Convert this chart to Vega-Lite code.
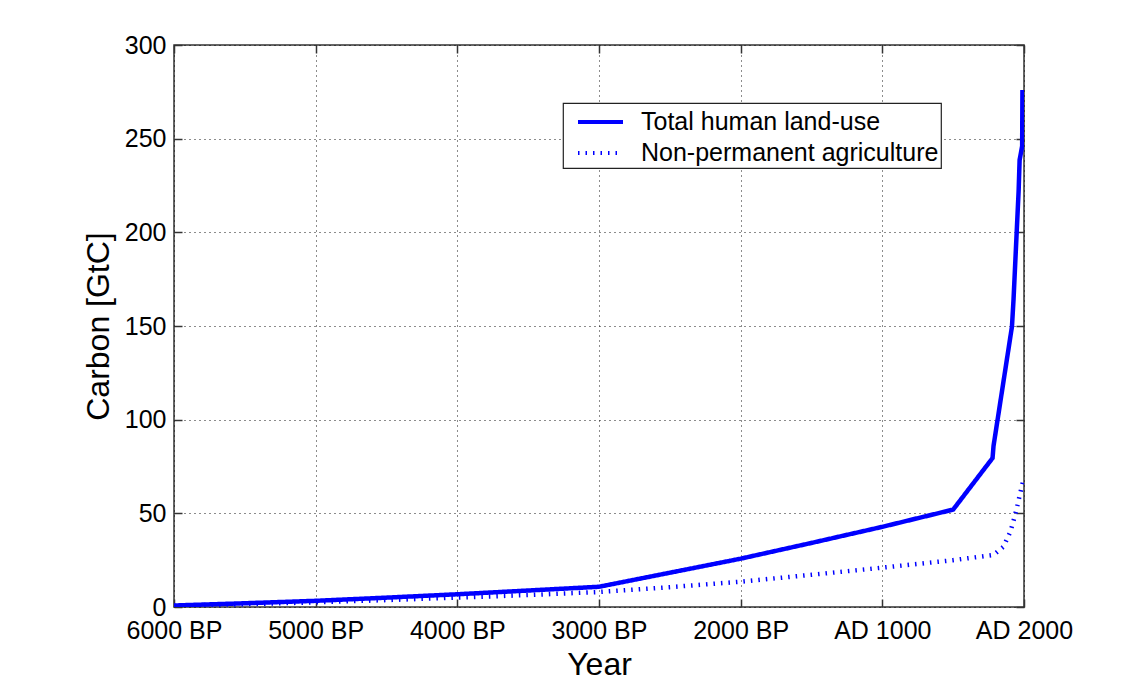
{
  "$schema": "https://vega.github.io/schema/vega-lite/v6.json",
  "width": 850,
  "height": 562,
  "autosize": {"type": "none"},
  "padding": {"left": 174, "top": 45, "right": 109, "bottom": 86},
  "background": "white",
  "config": {
    "font": "Liberation Sans",
    "view": {"stroke": "#333333", "strokeWidth": 1.5},
    "legend": {"strokeWidth": 1.2}
  },
  "data": {
    "values": [
      {"series": "Total human land-use", "year": -4000, "carbon": 0.8},
      {"series": "Total human land-use", "year": -3500, "carbon": 2.0},
      {"series": "Total human land-use", "year": -3000, "carbon": 3.3},
      {"series": "Total human land-use", "year": -2500, "carbon": 5.0},
      {"series": "Total human land-use", "year": -2000, "carbon": 6.8},
      {"series": "Total human land-use", "year": -1500, "carbon": 8.8},
      {"series": "Total human land-use", "year": -1000, "carbon": 10.8},
      {"series": "Total human land-use", "year": -500, "carbon": 18.3},
      {"series": "Total human land-use", "year": 0, "carbon": 25.8},
      {"series": "Total human land-use", "year": 500, "carbon": 34.2},
      {"series": "Total human land-use", "year": 1000, "carbon": 42.8},
      {"series": "Total human land-use", "year": 1500, "carbon": 52.0},
      {"series": "Total human land-use", "year": 1778, "carbon": 79.5},
      {"series": "Total human land-use", "year": 1785, "carbon": 86.0},
      {"series": "Total human land-use", "year": 1915, "carbon": 149.7},
      {"series": "Total human land-use", "year": 1926, "carbon": 164.0},
      {"series": "Total human land-use", "year": 1962, "carbon": 222.0},
      {"series": "Total human land-use", "year": 1969, "carbon": 238.6},
      {"series": "Total human land-use", "year": 1987, "carbon": 246.0},
      {"series": "Total human land-use", "year": 1989, "carbon": 276.0},
      {"series": "Non-permanent agriculture", "year": -4000, "carbon": 0.7},
      {"series": "Non-permanent agriculture", "year": -3500, "carbon": 1.5},
      {"series": "Non-permanent agriculture", "year": -3000, "carbon": 2.5},
      {"series": "Non-permanent agriculture", "year": -2500, "carbon": 3.7},
      {"series": "Non-permanent agriculture", "year": -2000, "carbon": 5.0},
      {"series": "Non-permanent agriculture", "year": -1500, "carbon": 6.4},
      {"series": "Non-permanent agriculture", "year": -1000, "carbon": 8.0},
      {"series": "Non-permanent agriculture", "year": -500, "carbon": 10.6},
      {"series": "Non-permanent agriculture", "year": 0, "carbon": 13.5},
      {"series": "Non-permanent agriculture", "year": 500, "carbon": 17.2},
      {"series": "Non-permanent agriculture", "year": 1000, "carbon": 21.0},
      {"series": "Non-permanent agriculture", "year": 1500, "carbon": 25.0},
      {"series": "Non-permanent agriculture", "year": 1785, "carbon": 27.8},
      {"series": "Non-permanent agriculture", "year": 1855, "carbon": 32.2},
      {"series": "Non-permanent agriculture", "year": 1903, "carbon": 40.0},
      {"series": "Non-permanent agriculture", "year": 1926, "carbon": 46.0},
      {"series": "Non-permanent agriculture", "year": 1950, "carbon": 53.0},
      {"series": "Non-permanent agriculture", "year": 1974, "carbon": 61.0},
      {"series": "Non-permanent agriculture", "year": 1990, "carbon": 66.0},
      {"series": "Non-permanent agriculture", "year": 2000, "carbon": 69.0}
    ]
  },
  "layer": [
    {
      "mark": {"type": "line", "color": "#0000ff", "strokeWidth": 4.5, "strokeCap": "butt", "clip": true},
      "encoding": {
        "x": {
          "field": "year", "type": "quantitative",
          "scale": {"domain": [-4000, 2000], "nice": false, "zero": false},
          "axis": {
            "orient": "bottom",
            "values": [-4000, -3000, -2000, -1000, 0, 1000, 2000],
            "labelExpr": "datum.value >= 1000 ? 'AD ' + datum.value : (2000 - datum.value) + ' BP'",
            "labelFontSize": 25, "labelColor": "black", "labelFlush": false, "labelOverlap": false,
            "labelPadding": 19,
            "tickSize": -8, "tickColor": "#333333", "tickWidth": 1.5,
            "domain": false,
            "grid": true, "gridDash": [1, 4], "gridColor": "black", "gridOpacity": 0.9, "gridWidth": 1,
            "title": "Year", "titleFontSize": 32, "titleFontWeight": "normal", "titleColor": "black", "titlePadding": 6
          }
        },
        "y": {
          "field": "carbon", "type": "quantitative",
          "scale": {"domain": [0, 300], "nice": false},
          "axis": {
            "orient": "left",
            "values": [0, 50, 100, 150, 200, 250, 300],
            "labelFontSize": 25, "labelColor": "black", "labelFlush": false, "labelOverlap": false,
            "labelPadding": 16,
            "tickSize": -8, "tickColor": "#333333", "tickWidth": 1.5,
            "domain": false,
            "grid": true, "gridDash": [1, 4], "gridColor": "black", "gridOpacity": 0.9, "gridWidth": 1,
            "title": "Carbon [GtC]", "titleFontSize": 32, "titleFontWeight": "normal", "titleColor": "black", "titlePadding": 9
          }
        },
        "strokeDash": {
          "field": "series", "type": "nominal",
          "scale": {"domain": ["Total human land-use", "Non-permanent agriculture"], "range": [[1, 0], [1.5, 6]]},
          "legend": {
            "orient": "none", "legendX": 389, "legendY": 58,
            "title": null,
            "labelFontSize": 25, "labelColor": "black", "labelLimit": 500,
            "labelExpr": "datum.label + '\u00a0\u00a0'",
            "strokeColor": "#222222", "fillColor": "white",
            "padding": 2, "rowPadding": 1,
            "symbolType": "M-1.5,0H1.5", "symbolSize": 900, "symbolStrokeWidth": 4, "symbolStrokeColor": "#0000ff",
            "symbolOffset": 18.5, "labelOffset": 23.5
          }
        }
      }
    },
    {
      "mark": {"type": "line", "strokeOpacity": 0, "opacity": 0},
      "encoding": {
        "x": {
          "field": "year", "type": "quantitative",
          "axis": {
            "orient": "top", "values": [-4000, -3000, -2000, -1000, 0, 1000, 2000],
            "labels": false, "domain": false, "grid": false, "title": null,
            "tickSize": -8, "tickColor": "#333333", "tickWidth": 1.5
          }
        },
        "y": {
          "field": "carbon", "type": "quantitative",
          "axis": {
            "orient": "right", "values": [0, 50, 100, 150, 200, 250, 300],
            "labels": false, "domain": false, "grid": false, "title": null,
            "tickSize": -8, "tickColor": "#333333", "tickWidth": 1.5
          }
        },
        "detail": {"field": "series", "type": "nominal"}
      }
    }
  ]
}
